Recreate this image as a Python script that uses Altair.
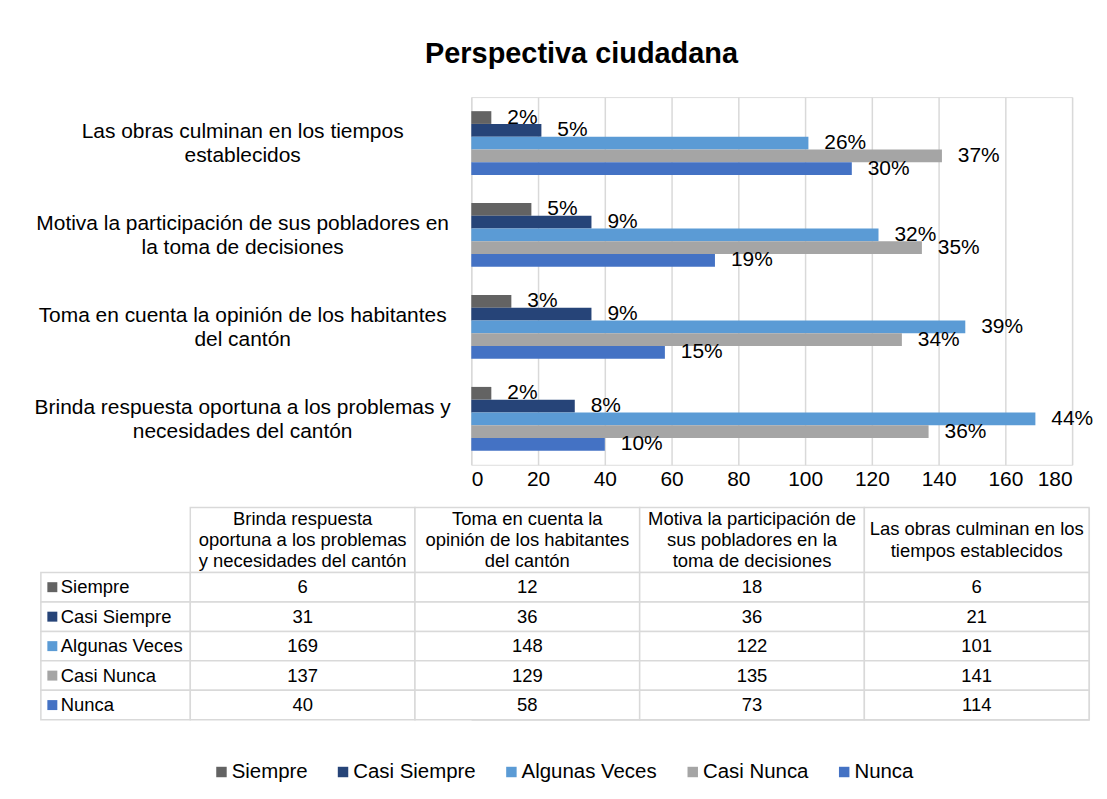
import altair as alt
import pandas as pd

# ---------------- data ----------------
series = ["Siempre", "Casi Siempre", "Algunas Veces", "Casi Nunca", "Nunca"]
colors = ["#636363", "#264478", "#5B9BD5", "#A5A5A5", "#4472C4"]

# category labels ("|" = line break on the axis)
categories = [
    "Brinda respuesta oportuna a los problemas y|necesidades del cantón",
    "Toma en cuenta la opinión de los habitantes|del cantón",
    "Motiva la participación de sus pobladores en|la toma de decisiones",
    "Las obras culminan en los tiempos|establecidos",
]
# table column headers ("|" = line break)
table_headers = [
    "Brinda respuesta|oportuna a los problemas|y necesidades del cantón",
    "Toma en cuenta la|opinión de los habitantes|del cantón",
    "Motiva la participación de|sus pobladores en la|toma de decisiones",
    "Las obras culminan en los|tiempos establecidos",
]

siempre = [6, 12, 18, 6]
casi_siempre = [31, 36, 36, 21]
algunas_veces = [169, 148, 122, 101]
casi_nunca = [137, 129, 135, 141]
nunca = [40, 58, 73, 114]

siempre_pct = ["2%", "3%", "5%", "2%"]
casi_siempre_pct = ["8%", "9%", "9%", "5%"]
algunas_veces_pct = ["44%", "39%", "32%", "26%"]
casi_nunca_pct = ["36%", "34%", "35%", "37%"]
nunca_pct = ["10%", "15%", "19%", "30%"]

x_ticks = [0, 20, 40, 60, 80, 100, 120, 140, 160, 180]

values = [siempre, casi_siempre, algunas_veces, casi_nunca, nunca]
pcts = [siempre_pct, casi_siempre_pct, algunas_veces_pct, casi_nunca_pct, nunca_pct]

FONT = "Liberation Sans"

rows = []
for si, s in enumerate(series):
    for ci, c in enumerate(categories):
        rows.append({"cat": c, "series": s, "value": values[si][ci], "pct": pcts[si][ci],
                     "col": ci, "row": si})
df = pd.DataFrame(rows)

color_scale = alt.Scale(domain=series, range=colors)
legend = alt.Legend(
    title=None, orient="none", direction="horizontal", legendX=-261, legendY=667,
    symbolType="square", symbolSize=110, symbolStrokeWidth=0, labelFontSize=20.5,
    labelFont=FONT, labelColor="#000000", labelOffset=0, columnPadding=25,
    labelLimit=0,
)

# ---------------- bar chart ----------------
PLOT_W = 603
cat_order = list(reversed(categories))
base = alt.Chart(df).encode(
    y=alt.Y("cat:N", sort=cat_order,
            scale=alt.Scale(paddingInner=0.306, paddingOuter=0.153),
            axis=alt.Axis(title=None, labelExpr="split(datum.label, '|')",
                          labelAlign="center", labelBaseline="middle", labelPadding=230,
                          labelOffset=-11,
                          labelFontSize=21, labelLineHeight=24, labelFont=FONT,
                          labelColor="#000000", ticks=False, domain=False, labelLimit=0)),
    yOffset=alt.YOffset("series:N", sort=series, scale=alt.Scale(paddingInner=0, paddingOuter=0)),
)

bars = base.mark_bar().encode(
    x=alt.X("value:Q", scale=alt.Scale(domain=[0, 180], nice=False),
            axis=alt.Axis(title=None, values=x_ticks, grid=True, gridColor="#D9D9D9",
                          gridWidth=1.5, domain=False, ticks=False, labelFontSize=21,
                          labelFont=FONT, labelColor="#000000", labelPadding=4)),
    color=alt.Color("series:N", sort=series, scale=color_scale, legend=legend),
)
bar_labels = base.mark_text(align="left", baseline="middle", dx=16, fontSize=21,
                            font=FONT, color="#000000").encode(
    x=alt.X("value:Q"), text="pct:N")

top = alt.layer(bars, bar_labels).properties(width=PLOT_W, height=369)

# ---------------- data table ----------------
HEADER_H = 2.2          # header row height, in data-row units
LABEL_W = 0.665         # row-label column width, in data-column units
ROW_PX = 29.6
HDR_LH = 21.5           # header line height, px
TABLE_LEFT = -432       # table's left edge, px from the bar plot's left edge
TABLE_RIGHT = 620       # table's right edge, px from the bar plot's left edge
cells = []
for ci in range(len(categories)):
    cells.append({"x0": ci, "x1": ci + 1, "y0": -HEADER_H, "y1": 0})
for si in range(len(series)):
    cells.append({"x0": -LABEL_W, "x1": 0, "y0": si, "y1": si + 1})
    for ci in range(len(categories)):
        cells.append({"x0": ci, "x1": ci + 1, "y0": si, "y1": si + 1})
cells_df = pd.DataFrame(cells)

n_lines = [len(h.split("|")) for h in table_headers]
hdr_df = pd.DataFrame({"x": [i + 0.5 for i in range(len(table_headers))],
                       "y": [-HEADER_H / 2 - (n - 1) / 2 * HDR_LH / ROW_PX for n in n_lines],
                       "t": table_headers})
df_tab = df.assign(xc=df["col"] + 0.5, yc=df["row"] + 0.5, vt=df["value"].astype(str))
lab_df = pd.DataFrame({"series": series, "x": [-LABEL_W] * len(series),
                       "y": [i + 0.5 for i in range(len(series))]})

xs = alt.Scale(domain=[-LABEL_W, len(categories)], range=[TABLE_LEFT, TABLE_RIGHT],
               nice=False, zero=False)
ys = alt.Scale(domain=[-HEADER_H, len(series)], nice=False, zero=False, reverse=True)

grid = alt.Chart(cells_df).mark_rect(fill="white", stroke="#D9D9D9", strokeWidth=1.5).encode(
    x=alt.X("x0:Q", scale=xs, axis=None), x2="x1:Q",
    y=alt.Y("y0:Q", scale=ys, axis=None), y2="y1:Q")
hdr = alt.Chart(hdr_df).transform_calculate(
    lines="split(datum.t, '|')"
).mark_text(align="center", baseline="middle", fontSize=18.5,
            lineHeight=HDR_LH, font=FONT, color="#000000").encode(
    x=alt.X("x:Q", scale=xs, axis=None), y=alt.Y("y:Q", scale=ys, axis=None), text="lines:N")
vals = alt.Chart(df_tab).mark_text(align="center", baseline="middle", fontSize=18.5,
                                   font=FONT, color="#000000").encode(
    x=alt.X("xc:Q", scale=xs, axis=None), y=alt.Y("yc:Q", scale=ys, axis=None), text="vt:N")
sq = alt.Chart(lab_df).mark_point(shape="square", filled=True, size=100, opacity=1,
                                  xOffset=11.5).encode(
    x=alt.X("x:Q", scale=xs, axis=None), y=alt.Y("y:Q", scale=ys, axis=None),
    color=alt.Color("series:N", sort=series, scale=color_scale, legend=legend))
labs = alt.Chart(lab_df).mark_text(align="left", baseline="middle", dx=20, fontSize=18.5,
                                   font=FONT, color="#000000").encode(
    x=alt.X("x:Q", scale=xs, axis=None), y=alt.Y("y:Q", scale=ys, axis=None), text="series:N")

table = alt.layer(grid, hdr, vals, sq, labs).properties(width=TABLE_RIGHT, height=213)

chart = alt.vconcat(top, table, spacing=15).properties(
    title=alt.TitleParams("Perspectiva ciudadana", fontSize=29, fontWeight="bold", font=FONT,
                          color="#000000", anchor="middle", dx=18, offset=28),
    padding={"left": 25, "top": 30, "right": 5, "bottom": 5},
).configure_view(stroke=None).configure(font=FONT)

chart.save("out.html", embed_options={"renderer": "svg", "actions": False})
